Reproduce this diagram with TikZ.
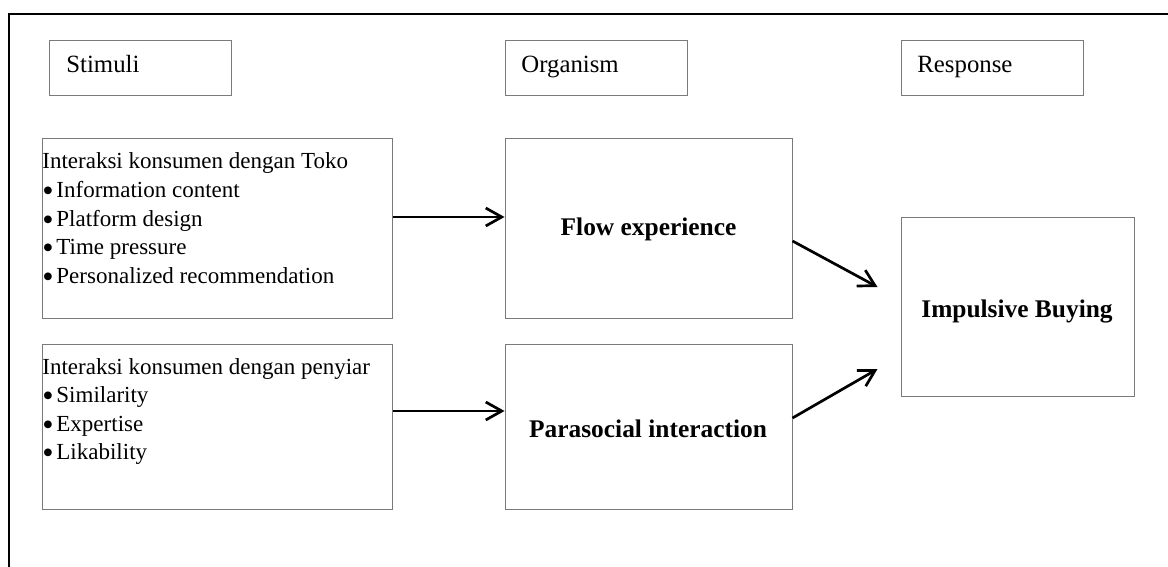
\documentclass[tikz,border=0pt]{standalone}
\usepackage{fontspec}
\setmainfont{Liberation Serif}
\usetikzlibrary{arrows.meta}
\definecolor{boxgray}{HTML}{7A7A7A}
\newcommand{\bigbul}{\raisebox{-0.17em}{\scalebox{1.4}{\textbullet}}\hspace{0.12em}}
\tikzset{
  box/.style={draw=boxgray, line width=0.5pt, rectangle, inner sep=0pt, fill=none},
  arr/.style={draw=black, line width=1.35pt, -{Straight Barb[length=8pt,width=9pt,line width=1.35pt]}},
  frame/.style={draw=black, line width=1.1pt},
  hdr/.style={inner sep=0pt, anchor=base west, font=\fontsize{12.4}{14}\selectfont},
  lst/.style={inner sep=0pt, anchor=base west, font=\fontsize{11.5}{14}\selectfont},
  bld/.style={inner sep=0pt, font=\fontsize{12.7}{15}\selectfont\bfseries}
}
\begin{document}
\begin{tikzpicture}[x=0.5pt,y=-0.5pt]
\useasboundingbox (0,0) rectangle (1168,567);
% frame
\coordinate (fbl) at (9,570);
\coordinate (ftl) at (9,14);
\coordinate (ftr) at (1170,14);
\draw[frame] (fbl) -- (ftl) -- (ftr);
% header boxes
\node[box, minimum width=91pt, minimum height=27.5pt] (stim) at (140,68.5) {};
\node[box, minimum width=91pt, minimum height=27.5pt] (org) at (596,68.5) {};
\node[box, minimum width=91pt, minimum height=27.5pt] (resp) at (992,68.5) {};
\node[hdr] (stimt) at (66,73) {Stimuli};
\node[hdr] (orgt) at (521,73) {Organism};
\node[hdr] (respt) at (917,73) {Response};
% main boxes
\node[box, minimum width=175pt, minimum height=89.5pt] (toko) at (217,228.5) {};
\node[box, minimum width=175pt, minimum height=82.5pt] (peny) at (217,426.5) {};
\node[box, minimum width=143.5pt, minimum height=89.5pt] (flow) at (648.5,228.5) {};
\node[box, minimum width=143.5pt, minimum height=82.5pt] (para) at (648.5,426.5) {};
\node[box, minimum width=116.5pt, minimum height=89.5pt] (imp) at (1017.5,306.5) {};
% list texts
\node[lst] (tk0) at (42,169) {Interaksi konsumen dengan Toko};
\node[lst] (tk1) at (42,197.6) {\bigbul Information content};
\node[lst] (tk2) at (42,226.2) {\bigbul Platform design};
\node[lst] (tk3) at (42,254.8) {\bigbul Time pressure};
\node[lst] (tk4) at (42,283.4) {\bigbul Personalized recommendation};
\node[lst] (pn0) at (42,374) {Interaksi konsumen dengan penyiar};
\node[lst] (pn1) at (42,402.6) {\bigbul Similarity};
\node[lst] (pn2) at (42,431.2) {\bigbul Expertise};
\node[lst] (pn3) at (42,459.8) {\bigbul Likability};
% bold labels
\node[bld] (flowt) at (648.5,229) {Flow experience};
\node[bld] (parat) at (648,429) {Parasocial interaction};
\node[bld] (impt) at (1017,311) {Impulsive Buying};
% arrows
\draw[arr] ([yshift=5.75pt]toko.east) -- ([yshift=5.75pt]flow.west);
\draw[arr] ([yshift=7.75pt]peny.east) -- ([yshift=7.75pt]para.west);
\draw[arr] ([yshift=-6.25pt]flow.east) -- ([xshift=-11.5pt,yshift=9.75pt]imp.west);
\draw[arr] ([yshift=4.25pt]para.east) -- ([xshift=-11.5pt,yshift=-31.25pt]imp.west);
\end{tikzpicture}
\end{document}
